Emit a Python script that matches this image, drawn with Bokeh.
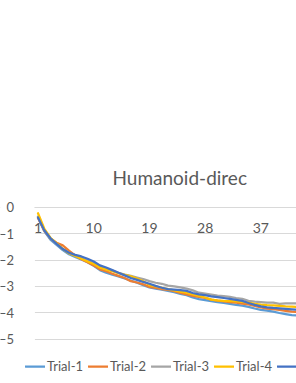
from bokeh.plotting import figure
from bokeh.models import Legend, LegendItem, FixedTicker, Range1d, Title, BoxAnnotation
from bokeh.embed import file_html
from bokeh.resources import INLINE

categories = list(range(1, 46))
trial_1 = [-0.35, -0.90, -1.22, -1.42, -1.62, -1.78, -1.88, -1.98, -2.08, -2.22,
           -2.38, -2.48, -2.55, -2.62, -2.70, -2.78, -2.86, -2.95, -3.04, -3.08,
           -3.12, -3.17, -3.22, -3.28, -3.33, -3.42, -3.48, -3.52, -3.56, -3.60,
           -3.63, -3.66, -3.70, -3.73, -3.78, -3.84, -3.89, -3.92, -3.96, -4.01,
           -4.05, -4.09, -4.11, -4.12, -4.13]
trial_2 = [-0.40, -0.88, -1.18, -1.34, -1.44, -1.64, -1.82, -1.97, -2.08, -2.20,
           -2.35, -2.42, -2.52, -2.60, -2.68, -2.80, -2.85, -2.92, -3.02, -3.06,
           -3.10, -3.13, -3.18, -3.25, -3.30, -3.36, -3.40, -3.44, -3.50, -3.54,
           -3.57, -3.60, -3.62, -3.65, -3.68, -3.74, -3.80, -3.84, -3.86, -3.89,
           -3.93, -3.96, -3.97, -3.98, -3.99]
trial_3 = [-0.35, -0.85, -1.18, -1.38, -1.58, -1.72, -1.82, -1.93, -2.02, -2.12,
           -2.25, -2.33, -2.40, -2.48, -2.55, -2.60, -2.66, -2.72, -2.80, -2.86,
           -2.90, -2.97, -3.00, -3.04, -3.08, -3.15, -3.24, -3.27, -3.31, -3.35,
           -3.37, -3.40, -3.44, -3.47, -3.55, -3.58, -3.60, -3.62, -3.62, -3.66,
           -3.64, -3.64, -3.65, -3.66, -3.67]
trial_4 = [-0.22, -0.80, -1.15, -1.36, -1.57, -1.74, -1.84, -1.95, -2.05, -2.15,
           -2.28, -2.36, -2.42, -2.50, -2.56, -2.62, -2.70, -2.80, -2.95, -3.00,
           -3.05, -3.10, -3.15, -3.20, -3.24, -3.30, -3.36, -3.42, -3.50, -3.53,
           -3.55, -3.56, -3.57, -3.59, -3.62, -3.66, -3.69, -3.71, -3.72, -3.74,
           -3.76, -3.77, -3.78, -3.79, -3.80]
trial_5 = [-0.38, -0.86, -1.17, -1.38, -1.58, -1.72, -1.80, -1.86, -1.95, -2.05,
           -2.20, -2.28, -2.38, -2.48, -2.58, -2.68, -2.75, -2.83, -2.90, -2.98,
           -3.05, -3.10, -3.12, -3.14, -3.17, -3.25, -3.30, -3.33, -3.38, -3.41,
           -3.44, -3.47, -3.51, -3.55, -3.63, -3.70, -3.76, -3.80, -3.82, -3.83,
           -3.85, -3.87, -3.89, -3.90, -3.91]
series_names = ["Trial-1", "Trial-2", "Trial-3", "Trial-4", "Trial-5"]
series_colors = ["#5B9BD5", "#ED7D31", "#A5A5A5", "#FFC000", "#4472C4"]
x_ticks = [1, 10, 19, 28, 37, 46]
y_ticks = [0, -1, -2, -3, -4, -5]

FONT = "Lato"
GREY = "#595959"
GRID = "#D9D9D9"
X_LEFT = 0.5  # category-axis edge where the value axis sits

p = figure(width=296, height=383, output_backend="svg", toolbar_location=None,
           x_range=Range1d(-5.06, 42.76), y_range=Range1d(-6.69, 0.38),
           min_border_left=0, min_border_right=0, min_border_top=197,
           min_border_bottom=0)
p.outline_line_color = None
p.background_fill_color = "white"
p.border_fill_color = "white"

# mask the grid left of the value axis (plot area starts at the axis)
p.add_layout(BoxAnnotation(right=X_LEFT, fill_color="white", fill_alpha=1,
                           line_color=None, level="underlay"))

renderers = []
for name, ys, c in zip(series_names, [trial_1, trial_2, trial_3, trial_4, trial_5], series_colors):
    r = p.line(categories, ys, line_color=c, line_width=2.25, line_join="round", line_cap="round")
    renderers.append((name, r))

t = Title(text="Humanoid-direc", align="left", offset=112, text_font=FONT,
          text_font_size="19px", text_font_style="normal", text_color=GREY, standoff=18)
p.add_layout(t, "above")

p.xaxis.ticker = FixedTicker(ticks=x_ticks)
p.xaxis.fixed_location = 0
p.xaxis.bounds = (X_LEFT, 60)
p.xaxis.axis_line_color = GRID
p.xaxis.axis_line_width = 1
p.xaxis.major_tick_line_color = None
p.xaxis.minor_tick_line_color = None
p.xaxis.major_label_text_font = FONT
p.xaxis.major_label_text_font_size = "14px"
p.xaxis.major_label_text_color = GREY
p.xaxis.major_label_standoff = 10

p.yaxis.ticker = FixedTicker(ticks=y_ticks)
p.yaxis.fixed_location = X_LEFT
p.yaxis.axis_line_color = None
p.yaxis.major_tick_line_color = None
p.yaxis.minor_tick_line_color = None
p.yaxis.major_label_text_font = FONT
p.yaxis.major_label_text_font_size = "13px"
p.yaxis.major_label_text_color = GREY
p.yaxis.major_label_standoff = 15

p.xgrid.grid_line_color = None
p.ygrid.ticker = FixedTicker(ticks=y_ticks)
p.ygrid.grid_line_color = GRID
p.ygrid.grid_line_width = 1

legend = Legend(items=[LegendItem(label=n, renderers=[r]) for n, r in renderers],
                orientation="horizontal", location=(25, 9),
                glyph_width=20, glyph_height=16, label_standoff=2, spacing=5,
                padding=0, margin=0, border_line_color=None,
                background_fill_alpha=0, label_text_font=FONT,
                label_text_font_size="13px", label_text_color=GREY)
p.add_layout(legend, "center")

open("out.html", "w").write(file_html(p, INLINE))
